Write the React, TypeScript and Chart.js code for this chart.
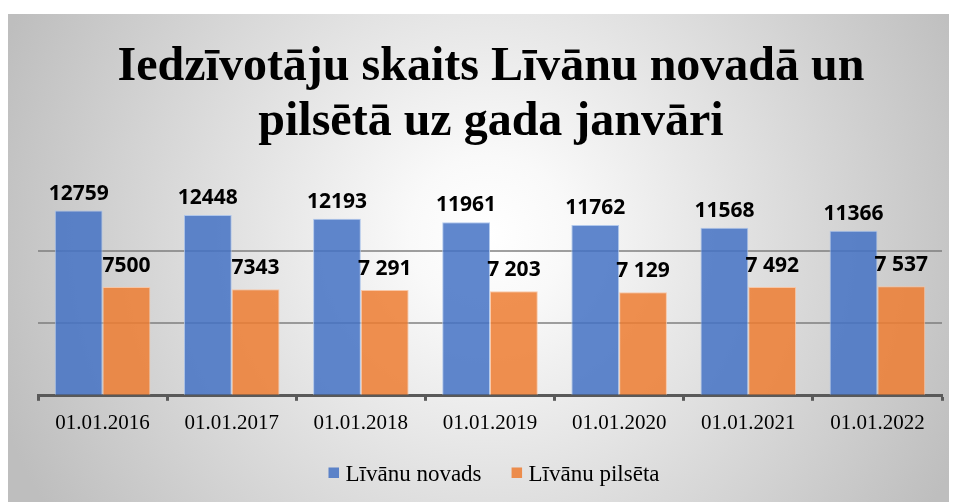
import React, { useEffect, useRef } from 'react';
import { Chart, registerables } from 'chart.js';

Chart.register(...registerables);

const categories = ['01.01.2016', '01.01.2017', '01.01.2018', '01.01.2019', '01.01.2020', '01.01.2021', '01.01.2022'];
const novadsValues = [12759, 12448, 12193, 11961, 11762, 11568, 11366];
const pilsetaValues = [7500, 7343, 7291, 7203, 7129, 7492, 7537];
const novadsLabels = ['12759', '12448', '12193', '11961', '11762', '11568', '11366'];
const pilsetaLabels = ['7500', '7343', '7 291', '7 203', '7 129', '7 492', '7 537'];
const seriesNames = ['Līvānu novads', 'Līvānu pilsēta'];
const titleLines = ['Iedzīvotāju skaits Līvānu novadā un', 'pilsētā uz gada janvāri'];
const gridValues = [5000, 10000];

const BLUE = 'rgba(68,114,196,0.85)';
const ORANGE = 'rgba(237,125,49,0.85)';
const SERIF = '"Liberation Serif", "Times New Roman", serif';
const SANS = '"Open Sans", "Liberation Sans", sans-serif';

const bgPlugin = {
  id: 'bg',
  beforeDraw(chart: any) {
    const { ctx, width, height } = chart;
    ctx.save();
    const g = ctx.createRadialGradient(480, 220, 0, 480, 220, 520);
    g.addColorStop(0, '#ffffff');
    g.addColorStop(0.15, '#f9f9f9');
    g.addColorStop(1, '#bebebe');
    ctx.fillStyle = g;
    ctx.fillRect(0, 0, width, height);
    ctx.restore();
  },
};

const titlePlugin = {
  id: 'customTitle',
  afterDraw(chart: any) {
    const { ctx, chartArea } = chart;
    const cx = (chartArea.left + chartArea.right) / 2 + 1;
    ctx.save();
    ctx.fillStyle = '#000';
    ctx.font = `bold 48px ${SERIF}`;
    ctx.textAlign = 'center';
    ctx.textBaseline = 'alphabetic';
    ctx.fillText(titleLines[0], cx, 66);
    ctx.fillText(titleLines[1], cx, 121);
    ctx.restore();
  },
};

const labelPlugin = {
  id: 'valueLabels',
  afterDatasetsDraw(chart: any) {
    const { ctx } = chart;
    const labelSets = [novadsLabels, pilsetaLabels];
    const gaps = [11, 15];
    ctx.save();
    ctx.fillStyle = '#000';
    ctx.font = `bold 21px ${SANS}`;
    ctx.textAlign = 'center';
    ctx.textBaseline = 'alphabetic';
    chart.data.datasets.forEach((ds: any, di: number) => {
      const meta = chart.getDatasetMeta(di);
      meta.data.forEach((bar: any, i: number) => {
        ctx.fillText(labelSets[di][i], bar.x, bar.y - gaps[di]);
      });
    });
    ctx.restore();
  },
};

const legendPlugin = {
  id: 'customLegend',
  afterDraw(chart: any) {
    const { ctx, chartArea } = chart;
    const colors = [BLUE, ORANGE];
    ctx.save();
    ctx.font = `23px ${SERIF}`;
    const box = 10.5;
    const textGap = 6.5;
    const itemGap = 30;
    const widths = seriesNames.map((n) => ctx.measureText(n).width);
    const total = widths.reduce((a, w) => a + box + textGap + w, 0) + itemGap * (seriesNames.length - 1);
    let x = (chartArea.left + chartArea.right) / 2 + 4 - total / 2;
    const baseline = 466.5;
    seriesNames.forEach((n, i) => {
      ctx.fillStyle = colors[i];
      ctx.fillRect(x, 453.5, box, box);
      x += box + textGap;
      ctx.fillStyle = '#000';
      ctx.textAlign = 'left';
      ctx.textBaseline = 'alphabetic';
      ctx.fillText(n, x, baseline);
      x += widths[i] + itemGap;
    });
    ctx.restore();
  },
};

export default function App() {
  const ref = useRef<HTMLCanvasElement | null>(null);
  useEffect(() => {
    document.documentElement.style.overflow = 'hidden';
    document.body.style.overflow = 'hidden';
    if (!ref.current) return;
    const chart = new Chart(ref.current, {
      type: 'bar',
      data: {
        labels: categories,
        datasets: [
          {
            label: seriesNames[0],
            data: novadsValues,
            backgroundColor: BLUE,
            borderColor: 'rgba(170,195,235,0.9)',
            borderWidth: 1,
            categoryPercentage: 0.74,
            barPercentage: 1,
          },
          {
            label: seriesNames[1],
            data: pilsetaValues,
            backgroundColor: ORANGE,
            borderColor: 'rgba(250,195,160,0.9)',
            borderWidth: 1,
            categoryPercentage: 0.74,
            barPercentage: 1,
          },
        ],
      },
      options: {
        animation: false,
        responsive: true,
        maintainAspectRatio: false,
        layout: { padding: { left: 30, right: 15, top: 164, bottom: 56 } },
        plugins: {
          legend: { display: false },
          title: { display: false },
          tooltip: { enabled: false },
        },
        scales: {
          x: {
            grid: {
              display: true,
              offset: true,
              drawOnChartArea: false,
              drawTicks: true,
              tickLength: 5,
              tickWidth: 3,
              tickColor: '#595959',
            },
            border: { display: true, color: '#595959', width: 3 },
            ticks: {
              color: '#000',
              padding: 10,
              font: { family: SERIF, size: 21 },
              maxRotation: 0,
              autoSkip: false,
            },
          },
          y: {
            min: 0,
            max: 15000,
            ticks: { display: false, stepSize: 5000 },
            border: { display: false },
            grid: {
              drawTicks: false,
              lineWidth: 2,
              color: (c: any) => (c.tick && gridValues.includes(c.tick.value) ? 'rgba(120,120,120,0.7)' : 'rgba(0,0,0,0)'),
            },
          },
        },
      },
      plugins: [bgPlugin, titlePlugin, labelPlugin, legendPlugin],
    });
    return () => chart.destroy();
  }, []);

  return (
    <div style={{ paddingTop: 6 }}>
      <div style={{ position: 'relative', width: 949, height: 488 }}>
        <canvas ref={ref} />
      </div>
    </div>
  );
}
